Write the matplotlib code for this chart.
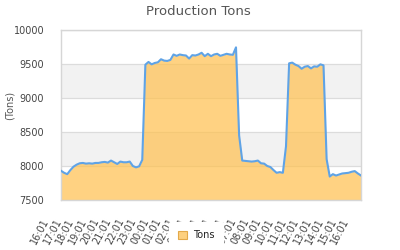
import matplotlib
matplotlib.use("Agg")
import matplotlib.pyplot as plt
import matplotlib.transforms as mtransforms
from matplotlib.patches import Patch
import numpy as np

# hours since 16:01, one reading every 15 minutes
hours = np.arange(0, 24.01, 0.25)
tons = [
    7930, 7900, 7880, 7940, 7990, 8020, 8040, 8045, 8035, 8040, 8035, 8045,
    8045, 8055, 8060, 8050, 8080, 8055, 8030, 8065, 8055, 8055, 8065, 8000,
    7980, 7995, 8090, 9490, 9530, 9495, 9515, 9525, 9570, 9550, 9545, 9560,
    9640, 9620, 9640, 9630, 9625, 9580, 9630, 9625, 9640, 9665, 9615, 9650,
    9615, 9640, 9650, 9620, 9635, 9650, 9640, 9635, 9745, 8450, 8080, 8075,
    8070, 8065, 8070, 8080, 8040, 8035, 8000, 7985, 7940, 7900, 7910, 7900,
    8290, 9510, 9520, 9490, 9470, 9430, 9460, 9470, 9435, 9465, 9460, 9495,
    9480, 8100, 7845, 7880, 7860, 7875, 7890, 7895, 7900, 7915, 7925, 7890,
    7860,
]
tick_labels = ["16:01", "17:01", "18:01", "19:01", "20:01", "21:01", "22:01",
               "23:01", "00:01", "01:01", "02:01", "03:01", "04:01", "05:01",
               "06:01", "07:01", "08:01", "09:01", "10:01", "11:01", "12:01",
               "13:01", "14:01", "15:01", "16:01"]
y_ticks = [7500, 8000, 8500, 9000, 9500, 10000]

fig = plt.figure(figsize=(4, 2.5), dpi=100)
ax = fig.add_axes([0.1525, 0.2, 0.75, 0.68])

# alternating grey bands
for lo in (8000, 9000):
    ax.axhspan(lo, lo + 500, color="#f2f2f2", zorder=0, lw=0)
for y in y_ticks:
    ax.axhline(y, color="#dcdcdc", lw=0.9, zorder=1)

ax.fill_between(hours, 7500, tons, color="#ffc04d", alpha=0.7, lw=0, zorder=2)
ax.plot(hours, tons, color="#5fa3e6", lw=1.5, zorder=3)

ax.set_xlim(0, 24)
ax.set_ylim(7500, 10000)
ax.set_yticks(y_ticks)
ax.set_yticklabels([str(v) for v in y_ticks])
ax.set_xticks(np.arange(0, 25))
ax.set_xticklabels(tick_labels, rotation=62, ha="right", va="top")
ax.tick_params(length=0, labelsize=7, colors="#444444")
ax.tick_params(axis="y", pad=12)
ax.tick_params(axis="x", pad=12)
shift = mtransforms.ScaledTranslation(-0.1, 0, fig.dpi_scale_trans)
for lab in ax.get_xticklabels():
    lab.set_transform(lab.get_transform() + shift)
for s in ax.spines.values():
    s.set_color("#d6d6d6")
    s.set_linewidth(1)

fig.text(0.495, 0.955, "Production Tons", ha="center", va="center",
         fontsize=9.5, color="#555555")
fig.text(0.025, 0.58, "(Tons)", rotation=90, ha="center", va="center",
         fontsize=7, color="#555555")

leg = fig.legend(handles=[Patch(facecolor="#fdd07f", edgecolor="#e3a94a", lw=0.8)],
                 labels=["Tons"], loc="center", bbox_to_anchor=(0.49, 0.058),
                 frameon=True, fontsize=7, handlelength=0.9, handleheight=0.9,
                 borderpad=0.9, handletextpad=0.6, borderaxespad=0)
leg.get_frame().set_facecolor("white")
leg.get_frame().set_edgecolor("white")
leg.get_frame().set_alpha(1)
for t in leg.get_texts():
    t.set_color("#222222")

fig.savefig("out.png", dpi=100)
